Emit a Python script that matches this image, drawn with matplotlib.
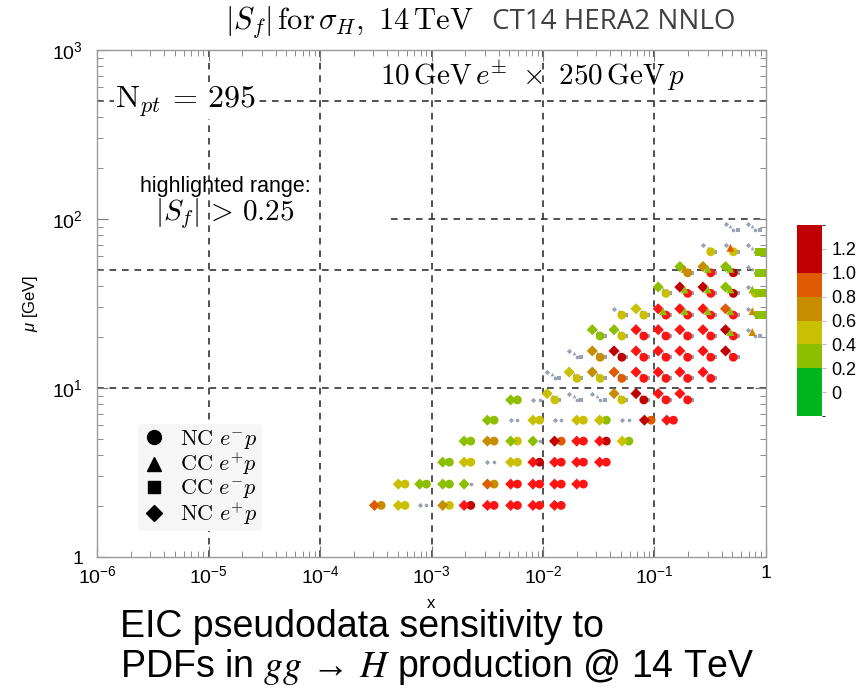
import numpy as np
import matplotlib
matplotlib.use('Agg')
import matplotlib.pyplot as plt
from matplotlib.colors import ListedColormap, BoundaryNorm
from matplotlib.lines import Line2D
import matplotlib.ticker as mticker
import matplotlib.cm as mcm

plt.rcParams['font.family'] = ['Liberation Sans', 'DejaVu Sans']
plt.rcParams['mathtext.fontset'] = 'custom'
plt.rcParams['mathtext.rm'] = 'Liberation Sans'
plt.rcParams['mathtext.it'] = 'Liberation Sans:italic'

# ---------------- data ----------------
# low-mu rows: NC e-p (circles) and NC e+p (diamonds) side by side
low_mu = [2.02, 2.7, 3.64, 4.85, 6.45, 8.5]
low_x = [
    [3.3e-4, 5.4e-4, 8.4e-4, 1.35e-3, 2.1e-3, 3.4e-3, 5.5e-3, 8.7e-3, 1.36e-2],
    [5.4e-4, 8.4e-4, 1.35e-3, 2.1e-3, 3.4e-3, 5.5e-3, 8.7e-3, 1.36e-2, 2.15e-2],
    [1.35e-3, 2.1e-3, 3.4e-3, 5.5e-3, 8.7e-3, 1.36e-2, 2.15e-2, 3.45e-2],
    [2.1e-3, 3.4e-3, 5.5e-3, 8.7e-3, 1.36e-2, 2.15e-2, 3.45e-2, 5.5e-2],
    [3.4e-3, 5.5e-3, 8.7e-3, 1.36e-2, 2.15e-2, 3.45e-2, 5.5e-2, 8.7e-2, 0.138],
    [5.5e-3, 8.7e-3],
]
low_S_circ = [
    [0.7, 0.5, 0.1, 0.5, 1.2, 1.6, 1.6, 1.6, 1.6],
    [0.5, 0.35, 0.35, 0.1, 0.7, 1.6, 1.6, 1.6, 1.6],
    [0.35, 0.5, 0.1, 0.5, 1.2, 1.6, 1.6, 1.6],
    [0.35, 0.7, 0.5, 0.1, 0.9, 1.6, 1.2, 0.35],
    [0.35, 0.1, 0.5, 0.1, 0.5, 0.35, 0.1, 0.9, 1.6],
    [0.35, 0.1],
]
low_S_diam = [
    [0.9, 0.5, 0.1, 0.7, 1.6, 1.6, 1.6, 1.6, 1.6],
    [0.5, 0.35, 0.35, 0.35, 0.9, 1.6, 1.6, 1.6, 1.6],
    [0.35, 0.5, 0.1, 0.5, 1.6, 1.6, 1.6, 1.6],
    [0.35, 0.7, 0.35, 0.35, 1.2, 1.6, 1.6, 0.5],
    [0.35, 0.1, 0.5, 0.1, 0.5, 0.5, 0.1, 1.2, 1.6],
    [0.35, 0.1],
]

# high-mu rows: NC e+p (diamond), CC e+p (triangle), NC e-p (circle), CC e-p (square)
up_mu = [8.5, 11.4, 15.2, 20.3, 27.0, 36.3, 48.0, 64.0, 86.0]
up_x = [
    [1.18e-2, 1.86e-2, 3.0e-2, 4.7e-2, 7.4e-2, 0.117, 0.183],
    [1.18e-2, 1.86e-2, 3.0e-2, 4.7e-2, 7.4e-2, 0.117, 0.183, 0.295],
    [1.86e-2, 3.0e-2, 4.7e-2, 7.4e-2, 0.117, 0.183, 0.295, 0.47],
    [3.0e-2, 4.7e-2, 7.4e-2, 0.117, 0.183, 0.295, 0.47, 0.74],
    [4.7e-2, 7.4e-2, 0.117, 0.183, 0.295, 0.47, 0.74],
    [0.117, 0.183, 0.295, 0.47, 0.74],
    [0.183, 0.295, 0.47, 0.74],
    [0.295, 0.47, 0.74],
    [0.47, 0.74],
]
up_S_circ = [
    [0.5, 0.1, 0.1, 0.5, 1.2, 1.6, 1.6],
    [0.1, 0.5, 0.5, 0.9, 1.6, 1.6, 1.6, 1.6],
    [0.1, 0.7, 1.2, 1.6, 1.6, 1.6, 1.6, 1.6],
    [0.35, 0.5, 1.6, 1.6, 1.6, 1.6, 1.6, 0.1],
    [0.5, 0.5, 1.6, 1.6, 1.6, 1.6, 0.1],
    [0.5, 1.6, 1.6, 1.2, 0.5],
    [0.7, 1.6, 1.2, 0.1],
    [0.5, 0.5, 0.1],
    [0.1, 0.1],
]
up_S_diam = [
    [0.5, 0.1, 0.1, 0.7, 1.2, 1.6, 1.6],
    [0.1, 0.5, 0.7, 0.9, 1.6, 1.6, 1.6, 1.6],
    [0.1, 0.7, 1.2, 1.6, 1.6, 1.6, 1.6, 1.2],
    [0.35, 0.35, 1.6, 1.6, 1.6, 1.6, 1.2, 0.1],
    [0.1, 0.5, 1.6, 1.6, 1.6, 0.9, 0.1],
    [0.35, 1.2, 1.2, 0.35, 0.1],
    [0.35, 0.7, 0.35, 0.1],
    [0.1, 0.1, 0.1],
    [0.1, 0.1],
]
up_S_tri = [
    [0.1, 0.1, 0.1, 0.1, 0.1, 0.1, 0.1],
    [0.1, 0.1, 0.1, 0.1, 0.1, 0.1, 0.1, 0.1],
    [0.1, 0.1, 0.1, 0.1, 0.1, 0.1, 0.1, 0.1],
    [0.1, 0.1, 0.1, 0.1, 0.1, 0.1, 0.35, 0.7],
    [0.1, 0.1, 0.35, 0.35, 0.35, 0.35, 0.7],
    [0.1, 0.35, 0.35, 0.35, 0.35],
    [0.7, 0.35, 0.35, 0.1],
    [0.1, 0.9, 0.1],
    [0.1, 0.1],
]
# CC e-p squares at the large-x edge
edge_sq_x = [0.87, 0.95, 0.87, 0.95, 0.87, 0.95, 0.87, 0.95]
edge_sq_mu = [27.0, 27.0, 36.3, 36.3, 48.0, 48.0, 64.0, 64.0]
edge_sq_S = [0.35, 0.35, 0.35, 0.35, 0.35, 0.35, 0.35, 0.35]

S_cut = 0.25
bounds = [-0.2, 0.2, 0.4, 0.6, 0.8, 1.0, 1.4]
cb_colors = ['#00B41E', '#8CBF00', '#C8C000', '#C88C00', '#E05A00', '#C00000']
cb_ticks = [0, 0.2, 0.4, 0.6, 0.8, 1.0, 1.2]
cb_ticklabels = ['0', '0.2', '0.4', '0.6', '0.8', '1.0', '1.2']
x_major = [1e-6, 1e-5, 1e-4, 1e-3, 1e-2, 1e-1, 1]
y_major = [1, 10, 100, 1000]

# ---------------- figure ----------------
fig = plt.figure(figsize=(8.62, 6.88), dpi=100)
ax = fig.add_axes([97 / 862, 1 - 557 / 688, 669 / 862, 507 / 688])
ax.set_xscale('log')
ax.set_yscale('log')
ax.set_xlim(1e-6, 1)
ax.set_ylim(1, 1e3)

cmap = ListedColormap(cb_colors)
cmap.set_over('#FF1414')
norm = BoundaryNorm(bounds, cmap.N)

# reference grid lines
gl = dict(color='#333333', lw=1.2, ls=(0, (4, 3.5)), zorder=1)
for xv in [1e-5, 1e-4, 1e-3, 1e-2, 1e-1]:
    ax.axvline(xv, **gl)
for yv in [10, 50, 500]:
    ax.axhline(yv, **gl)
ax.plot([4.3e-4, 1], [100, 100], **gl)

# collect points
pts = {'o': [], 'D': [], '^': [], 's': []}
dh = 10 ** 0.03     # horizontal dodge for low rows
du = 10 ** 0.035    # dodge for high rows
for mu, xs, sc, sd in zip(low_mu, low_x, low_S_circ, low_S_diam):
    for x, a, b in zip(xs, sc, sd):
        pts['o'].append((x * dh, mu, a))
        pts['D'].append((x / dh, mu, b))
for mu, xs, sc, sd, st in zip(up_mu, up_x, up_S_circ, up_S_diam, up_S_tri):
    for x, a, b, c in zip(xs, sc, sd, st):
        pts['o'].append((x * du, mu, a))
        pts['D'].append((x / du, mu * 1.09, b))
        pts['^'].append((x * 1.02, mu * 1.055, c))
        pts['s'].append((x * 10 ** 0.075, mu, 0.1))
for x, mu, s in zip(edge_sq_x, edge_sq_mu, edge_sq_S):
    pts['s'].append((x, mu, s))

sizes = {'o': 40, 'D': 32, '^': 32, 's': 34}
for m, lst in pts.items():
    arr = np.array(lst)
    lo = arr[arr[:, 2] < S_cut]
    hi = arr[arr[:, 2] >= S_cut]
    ax.scatter(lo[:, 0], lo[:, 1], s=7, marker=m, color='#9aa2b2',
               linewidths=0, zorder=3)
    ax.scatter(hi[:, 0], hi[:, 1], s=sizes[m], marker=m, c=hi[:, 2],
               cmap=cmap, norm=norm, linewidths=0, zorder=4)

# axes styling
for sp in ax.spines.values():
    sp.set_color('#999999')
    sp.set_linewidth(1.0)
ax.tick_params(which='both', direction='in', top=True, right=True, colors='#777777',
               labelcolor='black', labelsize=14)
ax.tick_params(which='major', length=8)
ax.tick_params(which='minor', length=4)
ax.tick_params(axis='x', pad=6)
ax.tick_params(axis='y', pad=10)


def fmt(v, pos):
    e = int(round(np.log10(v)))
    return '1' if e == 0 else r'$\mathregular{10^{%d}}$' % e


ax.xaxis.set_major_locator(mticker.FixedLocator(x_major))
ax.yaxis.set_major_locator(mticker.FixedLocator(y_major))
ax.xaxis.set_major_formatter(mticker.FuncFormatter(fmt))
ax.yaxis.set_major_formatter(mticker.FuncFormatter(fmt))
ax.xaxis.set_minor_locator(mticker.LogLocator(base=10, subs=np.arange(2, 10), numticks=20))
ax.yaxis.set_minor_locator(mticker.LogLocator(base=10, subs=np.arange(2, 10), numticks=20))
ax.xaxis.set_minor_formatter(mticker.NullFormatter())
ax.yaxis.set_minor_formatter(mticker.NullFormatter())
ax.set_xlabel('x', fontsize=12, labelpad=6)
ax.set_ylabel(r'$\mu$ [GeV]', fontsize=12, labelpad=9)

# legend
handles = [Line2D([], [], marker='o', ls='none', color='k', ms=10),
           Line2D([], [], marker='^', ls='none', color='k', ms=10),
           Line2D([], [], marker='s', ls='none', color='k', ms=9),
           Line2D([], [], marker='D', ls='none', color='k', ms=8)]
labels = [r'$\mathrm{NC}\ e^{-}p$', r'$\mathrm{CC}\ e^{+}p$',
          r'$\mathrm{CC}\ e^{-}p$', r'$\mathrm{NC}\ e^{+}p$']
leg = ax.legend(handles, labels, loc='upper left', bbox_to_anchor=(0.045, 0.285),
                fontsize=16, frameon=True, facecolor='#f6f6f6', edgecolor='none',
                framealpha=1, borderpad=0.2, labelspacing=0.0, handletextpad=0.7,
                handlelength=1.0)
for t in leg.get_texts():
    t.set_math_fontfamily('cm')
leg.set_zorder(6)

# texts
fig.text(225 / 862, 1 - 22 / 688, r'$|S_f|\,\mathrm{for}\,\sigma_H,\ 14\,\mathrm{TeV}$',
         fontsize=22, va='center', ha='left', math_fontfamily='cm')
fig.text(492 / 862, 1 - 22 / 688, 'CT14 HERA2 NNLO', fontsize=20, va='center', ha='left',
         family=['Open Sans', 'DejaVu Sans'], color='#404040')
fig.text(380 / 862, 1 - 75 / 688,
         r'$10\,\mathrm{GeV}\,e^{\pm}\ \times\ 250\,\mathrm{GeV}\,p$',
         fontsize=21, va='center', ha='left', math_fontfamily='cm')
fig.text(115 / 862, 1 - 101 / 688, r'$\mathrm{N}_{pt}\,=\,295$', fontsize=23,
         va='center', ha='left', math_fontfamily='cm',
         bbox=dict(facecolor='white', edgecolor='none', pad=0.5))
fig.text(140 / 862, 1 - 187 / 688, 'highlighted range:', fontsize=15.5, va='center', ha='left')
fig.text(155 / 862, 1 - 214 / 688, r'$|S_f|\,>\,0.25$', fontsize=21, va='center',
         ha='left', math_fontfamily='cm')

fig.text(120 / 862, 1 - 627 / 688, 'EIC pseudodata sensitivity to', fontsize=27,
         va='center', ha='left')
fig.text(120 / 862, 1 - 667 / 688, r'PDFs in $gg$ → $H$ production @ 14 TeV', fontsize=27,
         va='center', ha='left', math_fontfamily='stix')

# colorbar
cax = fig.add_axes([797 / 862, 1 - 416 / 688, 25 / 862, 191 / 688])
sm = mcm.ScalarMappable(norm=norm, cmap=cmap)
cb = fig.colorbar(sm, cax=cax, ticks=cb_ticks, spacing='proportional')
cb.set_ticklabels(cb_ticklabels)
cb.outline.set_visible(False)
cax.tick_params(length=3, color='#bbbbbb', labelsize=13, pad=4)

fig.savefig('out.png', dpi=100)
